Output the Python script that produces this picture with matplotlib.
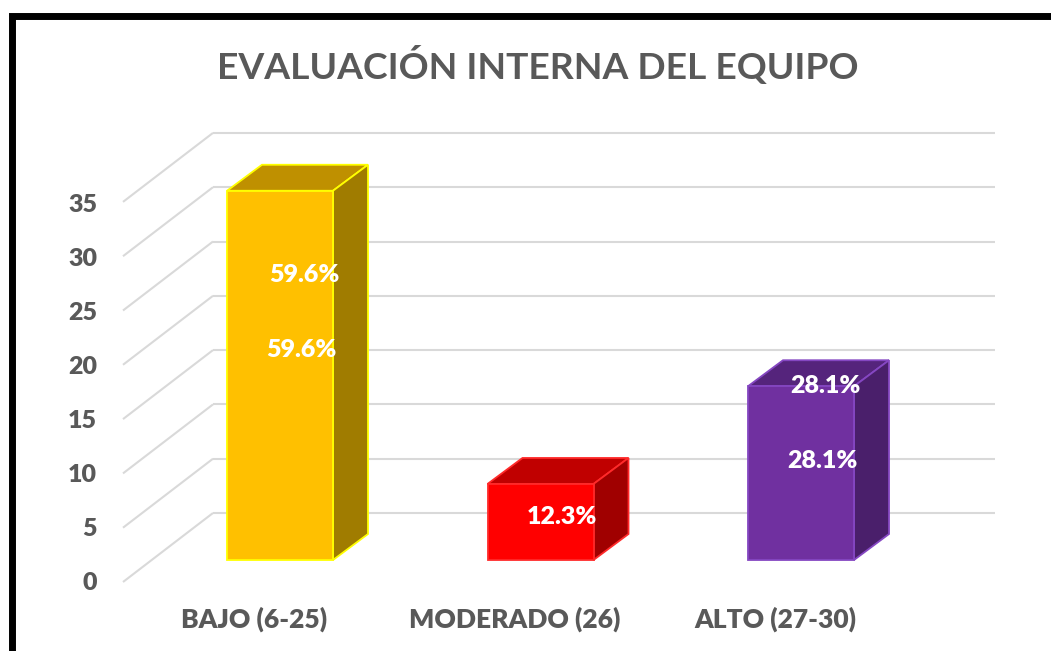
import matplotlib
matplotlib.use("Agg")
import matplotlib.pyplot as plt
from matplotlib.patches import Polygon, Rectangle

# ---------------- data ----------------
categories = ["BAJO (6-25)", "MODERADO (26)", "ALTO (27-30)"]
values = [34, 7, 16]
percent_labels = ["59.6%", "12.3%", "28.1%"]
show_second_label = [True, False, True]
y_ticks = [0, 5, 10, 15, 20, 25, 30, 35]
title = "EVALUACIÓN INTERNA DEL EQUIPO"

# ---------------- style ----------------
front_colors = ["#FFC000", "#FF0000", "#7030A0"]
top_colors = ["#BF9000", "#C00000", "#55247C"]
side_colors = ["#A07C00", "#A00000", "#4A1F6B"]
edge_colors = ["#FFFF00", "#FF2A2A", "#8547C2"]
TEXT_GRAY = "#595959"
GRID_GRAY = "#D9D9D9"
FONT = ["Lato", "DejaVu Sans"]

W, H = 1051, 651
PX_X = 260.5   # pixels per category unit
PX_Y = 10.86   # pixels per value unit
OX, OY = 280, 560  # pixel position of category 0 / value 0

BAR_W = 106 / PX_X
DEPTH_X = 35 / PX_X
DEPTH_Y = 26 / PX_Y
BACK_X0 = (213 - OX) / PX_X
BACK_X1 = (995 - OX) / PX_X
BACK_DY = 47 / PX_Y
FRONT_X0 = (123 - OX) / PX_X
FRONT_DY = -22 / PX_Y

fig = plt.figure(figsize=(W / 100, H / 100), dpi=100)
ax = fig.add_axes([0, 0, 1, 1])
ax.set_xlim(-OX / PX_X, (W - OX) / PX_X)
ax.set_ylim((OY - H) / PX_Y, OY / PX_Y)
ax.axis("off")

# back wall gridlines + floor diagonals
for t in y_ticks:
    ax.plot([BACK_X0, BACK_X1], [t + BACK_DY, t + BACK_DY], color=GRID_GRAY, lw=1.5,
            solid_capstyle="butt", zorder=1)
    ax.plot([FRONT_X0, BACK_X0], [t + FRONT_DY, t + BACK_DY], color=GRID_GRAY, lw=1.5,
            solid_capstyle="butt", zorder=1)
    ax.text((97 - OX) / PX_X, t * (378 / 380) - 2.76, str(t), ha="right", va="baseline",
            fontsize=18, fontweight="heavy", color=TEXT_GRAY, family=FONT)

# bars
xs = list(range(len(categories)))
ax.bar(xs, values, width=BAR_W, color=front_colors, edgecolor=edge_colors, lw=1.3, zorder=3)
for i, v in enumerate(values):
    l, r = i - BAR_W / 2, i + BAR_W / 2
    top = Polygon([(l, v), (r, v), (r + DEPTH_X, v + DEPTH_Y), (l + DEPTH_X, v + DEPTH_Y)],
                  closed=True, facecolor=top_colors[i], edgecolor=edge_colors[i], lw=1.3, zorder=2.9)
    side = Polygon([(r, 0), (r + DEPTH_X, DEPTH_Y), (r + DEPTH_X, v + DEPTH_Y), (r, v)],
                   closed=True, facecolor=side_colors[i], edgecolor=edge_colors[i], lw=1.3, zorder=2.9)
    ax.add_patch(top)
    ax.add_patch(side)
    # data labels
    ax.text(i + 0.083, v * 0.57, percent_labels[i], ha="center", va="center",
            fontsize=18, fontweight="heavy", color="white", family=FONT, zorder=5)
    if show_second_label[i]:
        ax.text(i + 0.092, v * 0.57 + 6.9, percent_labels[i], ha="center", va="center",
                fontsize=18, fontweight="heavy", color="white", family=FONT, zorder=5)
    # category labels
    ax.text(i - 0.1, (OY - 628) / PX_Y, categories[i], ha="center", va="baseline",
            fontsize=19, fontweight="heavy", color=TEXT_GRAY, family=FONT)

# title
fig.text(538 / W, 1 - 79 / H, title, ha="center", va="baseline", fontsize=26.8,
         fontweight="bold", color=TEXT_GRAY, family=FONT)

# outer black frame (top and left visible)
fig.patches.append(Rectangle((11.5 / W, -0.2), 2, 1.2 - 15.5 / H, transform=fig.transFigure,
                             fill=False, edgecolor="black", lw=5.0, zorder=10))

fig.savefig("out.png", dpi=100)
